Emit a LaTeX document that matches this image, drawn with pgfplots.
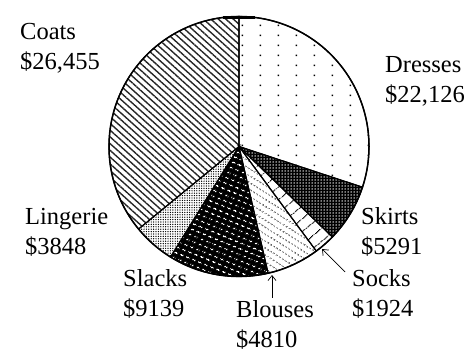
\documentclass[border=0pt]{standalone}
\usepackage{fontspec}
\setmainfont{Liberation Serif}
\usepackage{pgfplots}
\pgfplotsset{compat=1.18}
\usepackage{pgfplotstable}
\usetikzlibrary{patterns.meta,arrows.meta}

\pgfplotstableread{
label value
Dresses 22126
Skirts 5291
Socks 1924
Blouses 4810
Slacks 9139
Lingerie 3848
Coats 26455
}\piedata

% cumulative angles (clockwise from the top)
\xdef\pietotal{0}
\foreach \i in {0,...,6}{%
  \pgfplotstablegetelem{\i}{value}\of\piedata
  \xdef\pietotal{\fpeval{\pietotal+\pgfplotsretval}}%
}
\xdef\piecum{0}
\expandafter\xdef\csname pieang0\endcsname{90}
\foreach \i in {0,...,6}{%
  \pgfplotstablegetelem{\i}{value}\of\piedata
  \xdef\piecum{\fpeval{\piecum+\pgfplotsretval}}%
  \pgfmathtruncatemacro\j{\i+1}%
  \expandafter\xdef\csname pieang\j\endcsname{\fpeval{90-360*\piecum/\pietotal}}%
}
\def\ang#1{\csname pieang#1\endcsname}
\def\cx{239}
\def\cy{207.5}
\def\R{130bp}
\newcommand\pieslice[2]{(axis cs:\cx,\cy) -- ++(\ang{#1}:\R) arc[start angle=\ang{#1}, end angle=\ang{#2}, radius=\R] -- cycle}

\tikzdeclarepattern{
  name=SparseDots, type=uncolored,
  bounding box={(0,0) and (18bp,9.7bp)},
  tile size={(18bp,9.7bp)},
  code={\fill (8bp,4bp) rectangle (9.5bp,5.5bp);}
}
\tikzdeclarepattern{
  name=DashRows, type=uncolored,
  bounding box={(0,0) and (6bp,5bp)},
  tile size={(6bp,5bp)},
  tile transformation={rotate=-22},
  code={\fill (0.5bp,1.9bp) rectangle (4bp,3.2bp);}
}
\tikzdeclarepattern{
  name=DotRows, type=uncolored,
  bounding box={(0,0) and (3bp,5.5bp)},
  tile size={(3bp,5.5bp)},
  tile transformation={rotate=-32},
  code={\fill (0.7bp,2.2bp) rectangle (2.2bp,3.5bp);}
}

\newcommand\lab[3]{%
  \node[anchor=base west, inner sep=0pt, font=\fontsize{24.5bp}{30bp}\selectfont] at (axis cs:#1,#2) {#3};}

\begin{document}
\begin{tikzpicture}
\begin{axis}[
  scale only axis, width=475bp, height=354bp,
  xmin=0, xmax=475, ymin=0, ymax=354,
  hide axis, clip=false]
\path (axis cs:0,0) rectangle (axis cs:475,354);
% Dresses
\fill[white] \pieslice{0}{1};
\fill[pattern=SparseDots, pattern color=black] \pieslice{0}{1};
% Skirts
\fill[black] \pieslice{1}{2};
\fill[pattern={Dots[distance=3bp, radius=0.75bp]}, pattern color=white] \pieslice{1}{2};
% Socks
\fill[white] \pieslice{2}{3};
\fill[pattern={Lines[angle=40, distance=10bp, line width=0.9bp]}, pattern color=black] \pieslice{2}{3};
% Blouses
\fill[white] \pieslice{3}{4};
\fill[pattern=DotRows, pattern color=black] \pieslice{3}{4};
% Slacks
\fill[black] \pieslice{4}{5};
\fill[pattern=DashRows, pattern color=white] \pieslice{4}{5};
% Lingerie
\fill[white] \pieslice{5}{6};
\fill[pattern={Dots[distance=2.4bp, radius=0.7bp]}, pattern color=black] \pieslice{5}{6};
% Coats
\fill[white] \pieslice{6}{7};
\fill[pattern={Lines[angle=-42, distance=5bp, line width=1.4bp]}, pattern color=black!85] \pieslice{6}{7};
% outlines
\draw[line width=1.1bp] \pieslice{0}{1};
\draw[line width=1.1bp] \pieslice{1}{2};
\draw[line width=1.1bp] \pieslice{2}{3};
\draw[line width=1.1bp] \pieslice{3}{4};
\draw[line width=1.1bp] \pieslice{4}{5};
\draw[line width=1.1bp] \pieslice{5}{6};
\draw[line width=1.1bp] \pieslice{6}{7};
\draw[line width=1.5bp] (axis cs:\cx,\cy) circle[radius=\R];
\fill (axis cs:223,334.5) rectangle (axis cs:255,338);
% arrows
\draw[line width=0.7bp, -{Straight Barb[length=5bp, width=8bp]}] (axis cs:272,56) -- (axis cs:272,79);
\draw[line width=0.7bp, -{Straight Barb[length=5bp, width=8bp]}] (axis cs:345,82) -- (axis cs:322,105);
% labels
\lab{20}{314}{Coats}
\lab{20}{284}{\$26,455}
\lab{385}{281}{Dresses}
\lab{385}{251}{\$22,126}
\lab{361}{129}{Skirts}
\lab{361}{99}{\$5291}
\lab{352}{67}{Socks}
\lab{352}{37}{\$1924}
\lab{25}{129}{Lingerie}
\lab{25}{99}{\$3848}
\lab{123}{67}{Slacks}
\lab{123}{37}{\$9139}
\lab{236}{36}{Blouses}
\lab{236}{7}{\$4810}
\end{axis}
\end{tikzpicture}
\end{document}
